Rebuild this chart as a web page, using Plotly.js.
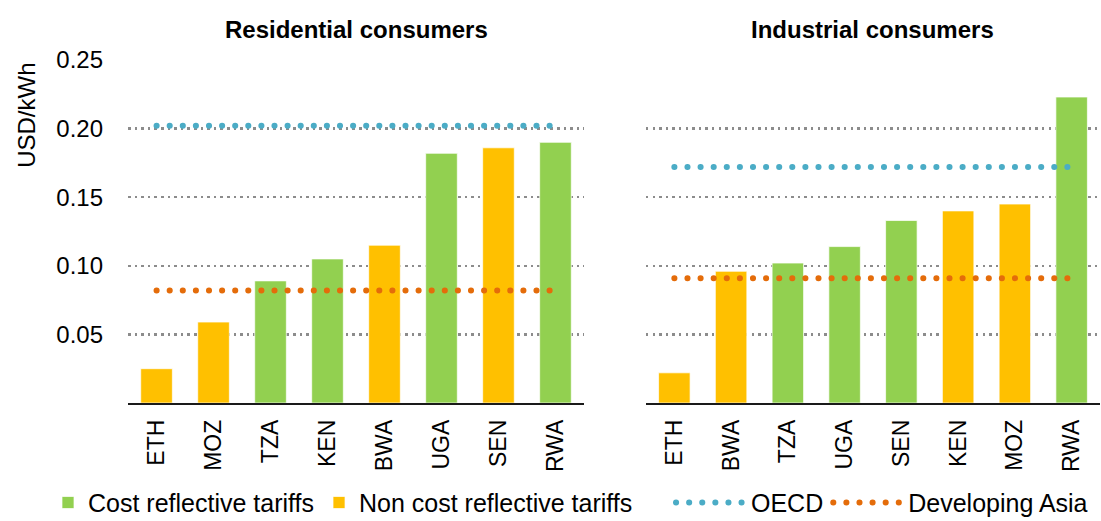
<!DOCTYPE html>
<html>
<head>
<meta charset="utf-8">
<script src="https://cdn.plot.ly/plotly-3.0.1.min.js"></script>
<style>
  html, body { margin: 0; padding: 0; background: #fff; }
  #chart { width: 1101px; height: 521px; }
  .js-line { stroke-linecap: round; }
</style>
</head>
<body>
<div id="chart"></div>
<script>
// ---- Data ----
const resCategories = ['ETH', 'MOZ', 'TZA', 'KEN', 'BWA', 'UGA', 'SEN', 'RWA'];
const resValues     = [0.025, 0.059, 0.089, 0.105, 0.115, 0.182, 0.186, 0.190];
const resTariff     = ['non', 'non', 'cost', 'cost', 'non', 'cost', 'non', 'cost'];
const resOECD       = [0.202, 0.202, 0.202, 0.202, 0.202, 0.202, 0.202, 0.202];
const resDevAsia    = [0.082, 0.082, 0.082, 0.082, 0.082, 0.082, 0.082, 0.082];

const indCategories = ['ETH', 'BWA', 'TZA', 'UGA', 'SEN', 'KEN', 'MOZ', 'RWA'];
const indValues     = [0.022, 0.096, 0.102, 0.114, 0.133, 0.140, 0.145, 0.223];
const indTariff     = ['non', 'non', 'cost', 'cost', 'cost', 'non', 'non', 'cost'];
const indOECD       = [0.172, 0.172, 0.172, 0.172, 0.172, 0.172, 0.172, 0.172];
const indDevAsia    = [0.091, 0.091, 0.091, 0.091, 0.091, 0.091, 0.091, 0.091];

const yTickVals  = [0.05, 0.10, 0.15, 0.20, 0.25];
const yTickText  = ['0.05', '0.10', '0.15', '0.20', '0.25'];
const subTitles  = ['Residential consumers', 'Industrial consumers'];
const legendNames = ['Cost reflective tariffs', 'Non cost reflective tariffs', 'OECD', 'Developing Asia'];

// ---- Styles ----
const GREEN = '#92D050', YELLOW = '#FFC000', BLUE = '#4BACC6', ORANGE = '#E46C0A';
const FONT = 'Liberation Sans, Arial, sans-serif';

function pick(cats, vals, types, t) {
  const x = [], y = [];
  cats.forEach((c, i) => { if (types[i] === t) { x.push(c); y.push(vals[i]); } });
  return { x, y };
}

function barTrace(d, name, color, xa, ya, show) {
  return {
    type: 'bar', x: d.x, y: d.y, name: name, xaxis: xa, yaxis: ya,
    marker: { color: color, line: { color: 'rgba(255,255,255,0.7)', width: 1 } },
    legend: 'legend', legendgroup: name, showlegend: show, hoverinfo: 'x+y'
  };
}
function lineTrace(x, y, name, color, xa, ya, show) {
  return {
    type: 'scatter', mode: 'lines', x: x, y: y, name: name, xaxis: xa, yaxis: ya,
    line: { color: color, width: 6, dash: '0.1px,13px' },
    legend: 'legend2', legendgroup: name, showlegend: show
  };
}

const traces = [
  barTrace(pick(resCategories, resValues, resTariff, 'cost'), legendNames[0], GREEN, 'x', 'y', true),
  barTrace(pick(resCategories, resValues, resTariff, 'non'), legendNames[1], YELLOW, 'x', 'y', true),
  barTrace(pick(indCategories, indValues, indTariff, 'cost'), legendNames[0], GREEN, 'x2', 'y2', false),
  barTrace(pick(indCategories, indValues, indTariff, 'non'), legendNames[1], YELLOW, 'x2', 'y2', false),
  lineTrace(resCategories, resOECD, legendNames[2], BLUE, 'x', 'y', true),
  lineTrace(resCategories, resDevAsia, legendNames[3], ORANGE, 'x', 'y', true),
  lineTrace(indCategories, indOECD, legendNames[2], BLUE, 'x2', 'y2', false),
  lineTrace(indCategories, indDevAsia, legendNames[3], ORANGE, 'x2', 'y2', false)
];

function xAxis(cats, domain, anchor) {
  return {
    domain: domain, anchor: anchor, type: 'category',
    categoryorder: 'array', categoryarray: cats,
    tickangle: -90, tickfont: { size: 23, color: '#000' },
    ticks: '', ticklabelstandoff: 6,
    showline: true, linecolor: '#1a1a1a', linewidth: 1.5,
    showgrid: false, zeroline: false, fixedrange: true
  };
}
function yAxis(anchor, showLabels) {
  return {
    anchor: anchor, range: [0, 0.25],
    tickmode: 'array', tickvals: yTickVals, ticktext: yTickText,
    showticklabels: showLabels, tickfont: { size: 24, color: '#000' },
    ticks: '', ticklabelstandoff: 24,
    showgrid: true, gridcolor: '#8c8c8c', gridwidth: 2.5, griddash: '2.5px,4.1px',
    showline: false, zeroline: false, fixedrange: true
  };
}

const legendBase = {
  orientation: 'h', xref: 'container', yref: 'container',
  xanchor: 'left', y: 0.035, yanchor: 'middle',
  font: { size: 25, color: '#000' },
  traceorder: 'normal', bgcolor: 'rgba(0,0,0,0)'
};

const layout = {
  width: 1101, height: 521,
  margin: { l: 0, r: 0, t: 60, b: 118, pad: 0 },
  paper_bgcolor: '#fff', plot_bgcolor: '#fff',
  font: { family: FONT, size: 24, color: '#000' },
  barmode: 'overlay', bargap: 0.445,
  showlegend: true,
  legend: Object.assign({}, legendBase, { x: 48 / 1101, itemwidth: 30 }),
  legend2: Object.assign({}, legendBase, { x: 671 / 1101, itemwidth: 70 }),
  xaxis: xAxis(resCategories, [0.1163, 0.5304], 'y'),
  yaxis: yAxis('x', true),
  xaxis2: xAxis(indCategories, [0.5867, 0.9991], 'y2'),
  yaxis2: yAxis('x2', false),
  annotations: [
    { text: '<b>' + subTitles[0] + '</b>', xref: 'x domain', yref: 'paper', x: 0.5, y: 1.09,
      xanchor: 'center', yanchor: 'middle', showarrow: false, font: { size: 24, color: '#000' } },
    { text: '<b>' + subTitles[1] + '</b>', xref: 'x2 domain', yref: 'paper', x: 0.5, y: 1.09,
      xanchor: 'center', yanchor: 'middle', showarrow: false, font: { size: 24, color: '#000' } },
    { text: 'USD/kWh', xref: 'paper', yref: 'paper', x: 0.0245, y: 0.84, textangle: -90,
      xanchor: 'center', yanchor: 'middle', showarrow: false, font: { size: 24, color: '#000' } }
  ]
};

Plotly.newPlot('chart', traces, layout, { displayModeBar: false, staticPlot: true });
</script>
</body>
</html>
